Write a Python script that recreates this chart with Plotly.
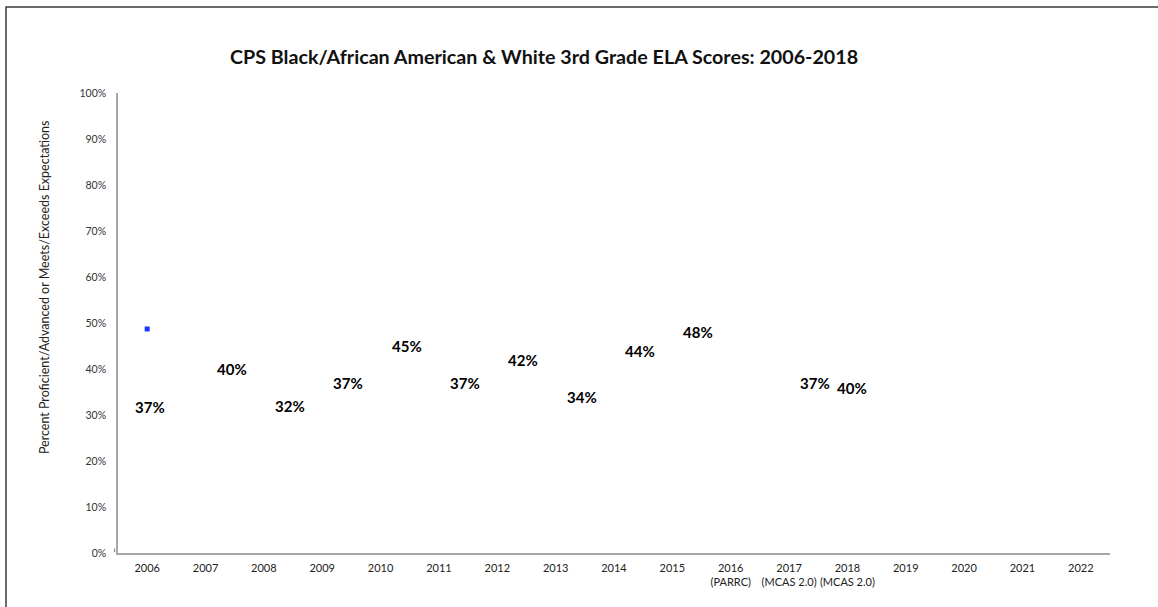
import plotly.graph_objects as go

# School years on the category axis; the last three carry a second line naming the test
years = [str(y) for y in range(2006, 2023)]
year_labels = years.copy()
year_labels[years.index("2016")] = "2016<br>(PARRC)"
year_labels[years.index("2017")] = "2017<br>(MCAS 2.0)"
year_labels[years.index("2018")] = "2018<br>(MCAS 2.0)"

# Percent proficient/advanced or meets/exceeds expectations
black_years = ["2006", "2007", "2008", "2009", "2010", "2011", "2012",
               "2013", "2014", "2015", "2017", "2018"]
black_pct = [37, 40, 32, 37, 45, 37, 42, 34, 44, 48, 37, 40]

white_years = ["2006"]
white_pct = [48.7]

y_ticks = list(range(0, 101, 10))

FONT = "Lato"
AXIS_GREY = "#a6a6a6"

# label placement: most labels sit to the right of the point, a couple below it
default_shift = (26, 0)
label_shift = {"2006": (3, -24), "2018": (5, -19)}

fig = go.Figure()

fig.add_trace(go.Scatter(
    x=white_years, y=white_pct, mode="markers",
    marker=dict(symbol="square", size=5, color="#1538ff"),
    name="White", showlegend=False, hoverinfo="skip",
))

fig.add_trace(go.Scatter(
    x=black_years, y=black_pct, mode="markers",
    marker=dict(size=1, color="rgba(0,0,0,0)"),
    name="Black/African American", showlegend=False, hoverinfo="skip",
))

annotations = []
for yr, v in zip(black_years, black_pct):
    dx, dy = label_shift.get(yr, default_shift)
    annotations.append(dict(
        # category axes take the category's position index in annotations
        x=years.index(yr), y=v, xref="x", yref="y", text=f"<b>{v}%</b>", showarrow=False,
        xanchor="center", yanchor="middle", xshift=dx, yshift=dy,
        font=dict(family=FONT, size=15, color="#000000"),
    ))

annotations.append(dict(
    x=0.429, y=1.08, xref="paper", yref="paper",
    text="<b>CPS Black/African American &amp; White 3rd Grade ELA Scores: 2006-2018</b>",
    showarrow=False, xanchor="center", yanchor="middle",
    font=dict(family=FONT, size=19.7, color="#111111"),
))
annotations.append(dict(
    x=-0.0746, y=0.578, xref="paper", yref="paper", textangle=-90,
    text="Percent Proficient/Advanced or Meets/Exceeds Expectations",
    showarrow=False, xanchor="center", yanchor="middle",
    font=dict(family=FONT, size=12.5, color="#222222"),
))

shapes = [
    # outer frame
    dict(type="rect", xref="paper", yref="paper", x0=-0.1129, y0=-0.13, x1=1.06, y1=1.187,
         line=dict(color="#3a3a3a", width=1.5), fillcolor="rgba(0,0,0,0)", layer="below"),
    # short marks at the ends of the value axis
    dict(type="line", xref="paper", yref="y", x0=-0.0062, x1=-0.0015, y0=100.4, y1=100.4,
         line=dict(color="#8c8c8c", width=1.2)),
    dict(type="line", xref="paper", yref="y", x0=-0.0035, x1=-0.0035, y0=0.2, y1=1.0,
         line=dict(color="#8c8c8c", width=1.2)),
]

fig.update_layout(
    width=1158, height=607,
    margin=dict(l=118, r=48, t=93, b=54),
    paper_bgcolor="white", plot_bgcolor="white",
    annotations=annotations, shapes=shapes,
    showlegend=False,
)

fig.update_xaxes(
    type="category", categoryorder="array", categoryarray=years,
    tickmode="array", tickvals=years, ticktext=year_labels,
    range=[-0.5, len(years) - 0.5],
    showline=True, linecolor=AXIS_GREY, linewidth=1.5,
    showgrid=False, zeroline=False, ticks="",
    tickfont=dict(family=FONT, size=11, color="#222222"),
    ticklabelstandoff=4,
)
fig.update_yaxes(
    range=[0, 100], tickmode="array", tickvals=y_ticks,
    ticktext=[f"{t}%" for t in y_ticks],
    showline=True, linecolor=AXIS_GREY, linewidth=1.5,
    showgrid=False, zeroline=False, ticks="",
    tickfont=dict(family=FONT, size=10.5, color="#333333"),
    ticklabelstandoff=8,
)

fig.write_html("out.html")
